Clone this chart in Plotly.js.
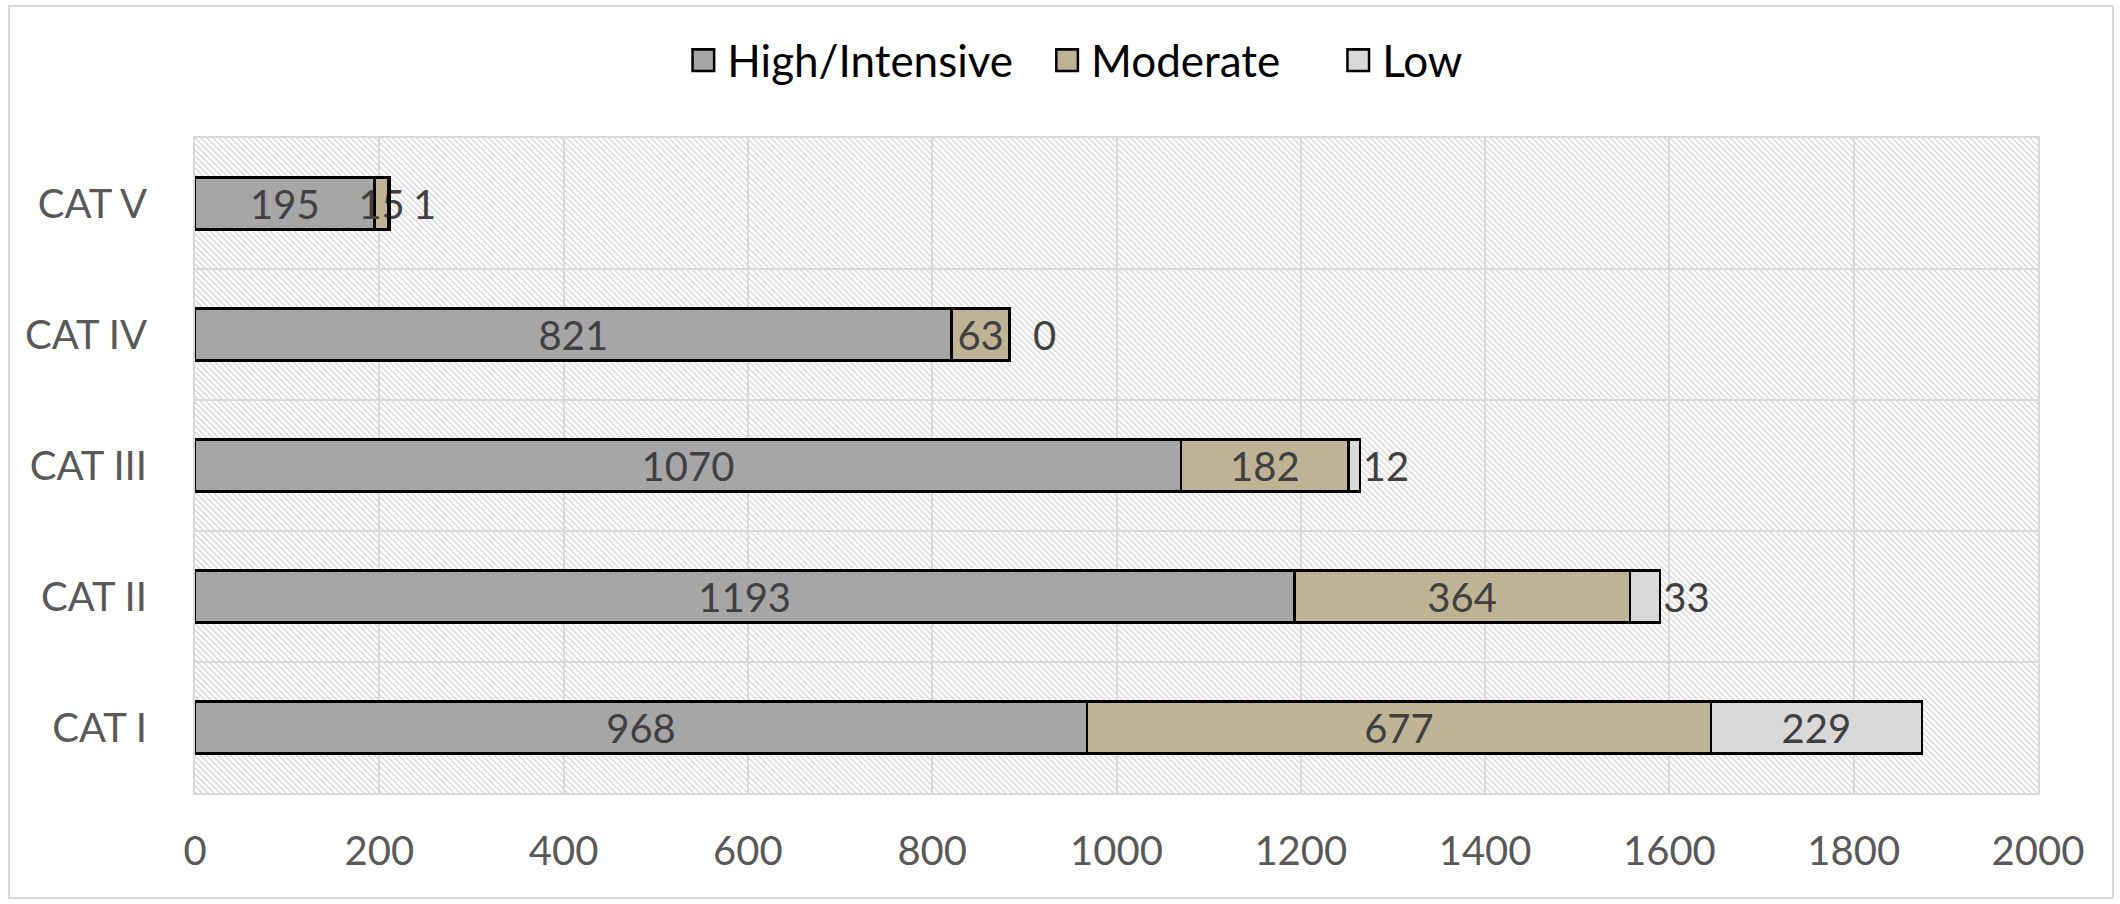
<!DOCTYPE html>
<html>
<head>
<meta charset="utf-8">
<script src="https://cdn.plot.ly/plotly-3.0.1.min.js"></script>
<style>
  html, body { margin: 0; padding: 0; background: #ffffff; }
  #wrap { position: relative; width: 2120px; height: 904px; }
  #chart { width: 2120px; height: 904px; }
  #frame { position: absolute; left: 8px; top: 5px; width: 2106px; height: 894px;
           border: 2px solid #d9d9d9; box-sizing: border-box; pointer-events: none; }
</style>
</head>
<body>
<div id="wrap">
  <div id="chart"></div>
  <div id="frame"></div>
</div>
<script>
// ---- data ----
const categories = ['CAT I', 'CAT II', 'CAT III', 'CAT IV', 'CAT V'];
const highValues = [968, 1193, 1070, 821, 195];
const moderateValues = [677, 364, 182, 63, 15];
const lowValues = [229, 33, 12, 0, 1];
const seriesNames = ['High/Intensive', 'Moderate', 'Low'];
const xTickValues = [0, 200, 400, 600, 800, 1000, 1200, 1400, 1600, 1800, 2000];

// ---- styling ----
const FONT = 'Lato, "Open Sans", "DejaVu Sans", sans-serif';
const colors = ['#a6a6a6', '#bfb396', '#d9d9d9'];
const labelFont = { family: FONT, size: 40, color: '#404040' };
const NB = '\u00a0';

function barTrace(name, values, color, positions, templates) {
  return {
    type: 'bar',
    orientation: 'h',
    name: name,
    y: categories,
    x: values,
    marker: { color: color, line: { color: '#000000', width: 2.5 } },
    texttemplate: templates || '%{x}',
    textposition: positions,
    textangle: 0,
    insidetextanchor: 'middle',
    constraintext: 'none',
    textfont: labelFont,
    insidetextfont: labelFont,
    outsidetextfont: labelFont,
    cliponaxis: false,
    hoverinfo: 'x+name'
  };
}

// small outside labels are nudged right (as in the original) by leading spaces
const lowTemplates = ['%{x}', '%{x}', '%{x}', NB + NB + '%{x}', NB + NB + '%{x}'];

const traces = [
  barTrace(seriesNames[0], highValues, colors[0], 'inside'),
  barTrace(seriesNames[1], moderateValues, colors[1], 'inside'),
  barTrace(seriesNames[2], lowValues, colors[2],
           lowValues.map((v, i) => i === 0 ? 'inside' : 'outside'), lowTemplates)
];

// hatched plot-area background
const hatch = '<svg xmlns="http://www.w3.org/2000/svg" width="1844" height="655" preserveAspectRatio="none">' +
  '<defs><pattern id="p" patternUnits="userSpaceOnUse" width="6" height="6">' +
  '<path d="M-1,-1 L7,7 M-4,2 L2,8 M2,-4 L8,2" stroke="#d4d4d4" stroke-width="1.3"/>' +
  '</pattern></defs><rect width="100%" height="100%" fill="#ffffff"/>' +
  '<rect width="100%" height="100%" fill="url(#p)"/></svg>';
const hatchURI = 'data:image/svg+xml;base64,' + btoa(hatch);

const layout = {
  width: 2120,
  height: 904,
  margin: { l: 195, r: 82, t: 138, b: 111 },
  paper_bgcolor: '#ffffff',
  plot_bgcolor: 'rgba(0,0,0,0)',
  barmode: 'stack',
  bargap: 0.6,
  font: { family: FONT, size: 40, color: '#595959' },
  showlegend: true,
  legend: {
    orientation: 'h',
    xref: 'container', yref: 'container',
    x: 0.507, xanchor: 'center',
    y: 0.933, yanchor: 'middle',
    bgcolor: 'rgba(0,0,0,0)',
    font: { family: FONT, size: 44, color: '#000000' },
    traceorder: 'normal',
    itemwidth: 38
  },
  xaxis: {
    range: [0, 2000],
    tickvals: xTickValues,
    ticktext: xTickValues.map(String),
    showgrid: true,
    gridcolor: '#d9d9d9',
    gridwidth: 2,
    zeroline: false,
    showline: true,
    mirror: true,
    linecolor: '#d9d9d9',
    linewidth: 2,
    ticks: '',
    ticklabelstandoff: 22,
    tickfont: { family: FONT, size: 40, color: '#595959' },
    fixedrange: true
  },
  yaxis: {
    type: 'category',
    categoryorder: 'array',
    categoryarray: categories,
    tickson: 'boundaries',
    ticks: '',
    showgrid: true,
    gridcolor: '#d9d9d9',
    gridwidth: 2,
    showline: true,
    mirror: true,
    linecolor: '#d9d9d9',
    linewidth: 2,
    ticklabelstandoff: 38,
    tickfont: { family: FONT, size: 40, color: '#595959' },
    fixedrange: true
  },
  images: [{
    source: hatchURI,
    xref: 'paper', yref: 'paper',
    x: 0, y: 1, sizex: 1, sizey: 1,
    xanchor: 'left', yanchor: 'top',
    sizing: 'stretch',
    layer: 'below'
  }]
};

Plotly.newPlot('chart', traces, layout, { displayModeBar: false, staticPlot: true }).then(function (gd) {
  // let legend entries extend beyond the legend's own clip box
  gd.querySelectorAll('.legend .scrollbox').forEach(function (s) {
    s.removeAttribute('clip-path');
  });
  // enlarge legend swatches and adjust the gap between legend entries
  const shifts = [-38, -13, 36];
  const items = gd.querySelectorAll('.legend .traces');
  items.forEach(function (g, i) {
    const pts = g.querySelectorAll('.legendpoints path');
    pts.forEach(function (p) {
      const t = p.getAttribute('transform') || '';
      p.setAttribute('transform', t + ' scale(1.8)');
      p.style.strokeWidth = '1.4px';
    });
    const tr = g.getAttribute('transform') || '';
    const m = /translate\(([-\d.]+)[ ,]+([-\d.]+)\)/.exec(tr);
    if (m && i < shifts.length) {
      const nx = parseFloat(m[1]) + shifts[i];
      g.setAttribute('transform', 'translate(' + nx + ',' + m[2] + ')');
    }
  });
});
</script>
</body>
</html>
